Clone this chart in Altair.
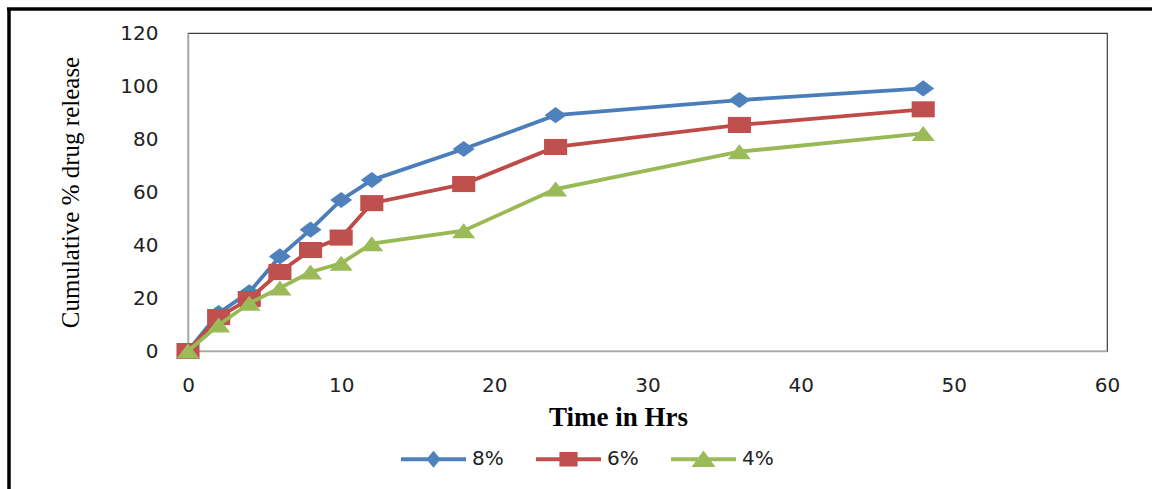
import altair as alt
import pandas as pd

# Sampling times (hours) and cumulative release for each formulation
hours = [0, 2, 4, 6, 8, 10, 12, 18, 24, 36, 48]
release_8 = [0, 14.3, 22.2, 35.7, 45.8, 57.0, 64.5, 76.2, 89.0, 94.7, 99.1]
release_6 = [0, 12.8, 19.6, 29.8, 38.1, 42.8, 55.8, 63.0, 77.0, 85.3, 91.2]
release_4 = [0, 9.8, 18.0, 23.8, 29.8, 33.1, 40.5, 45.4, 61.1, 75.2, 82.1]

series_names = ["8%", "6%", "4%"]
line_colors = ["#4A7EBB", "#BE4B48", "#98B954"]
marker_colors = ["#4F81BD", "#C0504D", "#9BBB59"]

x_ticks = [0, 10, 20, 30, 40, 50, 60]
y_ticks = [0, 20, 40, 60, 80, 100, 120]

# marker outlines (wide diamond, wide square, wide triangle)
marker_paths = [
    "M-1,0L0,-0.73L1,0L0,0.73Z",
    "M-1.05,-0.73H1.05V0.73H-1.05Z",
    "M0,-0.68L1.05,0.68H-1.05Z",
]
# legend glyphs: a line segment with the marker in its middle
bar = "M-1,-0.06H1V0.06H-1Z "
legend_paths = [
    bar + "M0,-0.26L0.22,0L0,0.26L-0.22,0Z",
    bar + "M-0.28,-0.22H0.28V0.22H-0.28Z",
    bar + "M0,-0.27L0.37,0.24H-0.37Z",
]

values = {"8%": release_8, "6%": release_6, "4%": release_4}
frames = []
for name in series_names:
    frames.append(pd.DataFrame({"hours": hours, "release": values[name], "series": name}))
df = pd.concat(frames, ignore_index=True)

W, H = 919, 318

x_enc = alt.X(
    "hours:Q",
    scale=alt.Scale(domain=[0, 60], nice=False, zero=True),
    axis=alt.Axis(
        values=x_ticks,
        title="Time in Hrs",
        grid=False,
        ticks=False,
        labelPadding=24,
        labelFont="DejaVu Sans",
        labelFontSize=20,
        labelColor="#222222",
        labelFlush=False,
        domainColor="#a6a6a6",
        domainWidth=1.5,
        titleFont="Liberation Serif",
        titleFontSize=27,
        titleFontWeight="bold",
        titleColor="#000000",
        titleX=430,
        titleY=74,
        titleAlign="center",
        titleBaseline="alphabetic",
    ),
)
y_enc = alt.Y(
    "release:Q",
    scale=alt.Scale(domain=[0, 120], nice=False),
    axis=alt.Axis(
        values=y_ticks,
        title="Cumulative % drug release",
        grid=False,
        ticks=False,
        labelPadding=30,
        labelFont="DejaVu Sans",
        labelFontSize=20,
        labelColor="#222222",
        labelFlush=False,
        domainColor="#a6a6a6",
        domainWidth=1.5,
        titleFont="Liberation Serif",
        titleFontSize=25,
        titleFontWeight="normal",
        titleColor="#000000",
        titleAngle=270,
        titleX=-118,
        titleY=159,
        titleAlign="center",
        titleBaseline="middle",
    ),
)

layers = []
for name, lc, mc, path in zip(series_names, line_colors, marker_colors, marker_paths):
    sub = df[df["series"] == name]
    layers.append(
        alt.Chart(sub).mark_line(color=lc, strokeWidth=3.8).encode(x=x_enc, y=y_enc)
    )
    layers.append(
        alt.Chart(sub)
        .mark_point(filled=True, opacity=1, size=484, shape=path, color=mc, strokeWidth=0)
        .encode(x=x_enc, y=y_enc)
    )

legend_cfg = alt.Legend(
    title=None,
    orient="none",
    legendX=212,
    legendY=392.5,
    direction="horizontal",
    symbolSize=4225,
    labelOffset=5,
    columnPadding=31,
    labelFont="DejaVu Sans",
    labelFontSize=20,
    labelColor="#222222",
    padding=0,
)
legend_layer = (
    alt.Chart(df)
    .transform_filter("false")
    .mark_point(filled=True, opacity=1)
    .encode(
        x=x_enc,
        y=y_enc,
        color=alt.Color("series:N", scale=alt.Scale(domain=series_names, range=marker_colors), legend=legend_cfg),
        shape=alt.Shape("series:N", scale=alt.Scale(domain=series_names, range=legend_paths), legend=legend_cfg),
    )
)
layers.append(legend_layer)

# outer frame: heavy rules along the top and left edges of the page
one_row = alt.Data(values=[{}])
frame_left = alt.Chart(one_row).mark_rule(color="black", strokeWidth=3.5).encode(
    x=alt.value(-179), y=alt.value(-24), y2=alt.value(460)
)
frame_top = alt.Chart(one_row).mark_rule(color="black", strokeWidth=3.5).encode(
    x=alt.value(-181), x2=alt.value(970), y=alt.value(-24)
)
layers += [frame_left, frame_top]

chart = (
    alt.layer(*layers)
    .properties(
        width=W,
        height=H,
        padding={"left": 188, "top": 33, "right": 45, "bottom": 138},
        autosize=alt.AutoSizeParams(type="none"),
        background="white",
    )
    .configure_view(stroke="#3c3c3c", strokeWidth=1.2)
)

chart.save("out.html", embed_options={"renderer": "svg", "actions": False})
